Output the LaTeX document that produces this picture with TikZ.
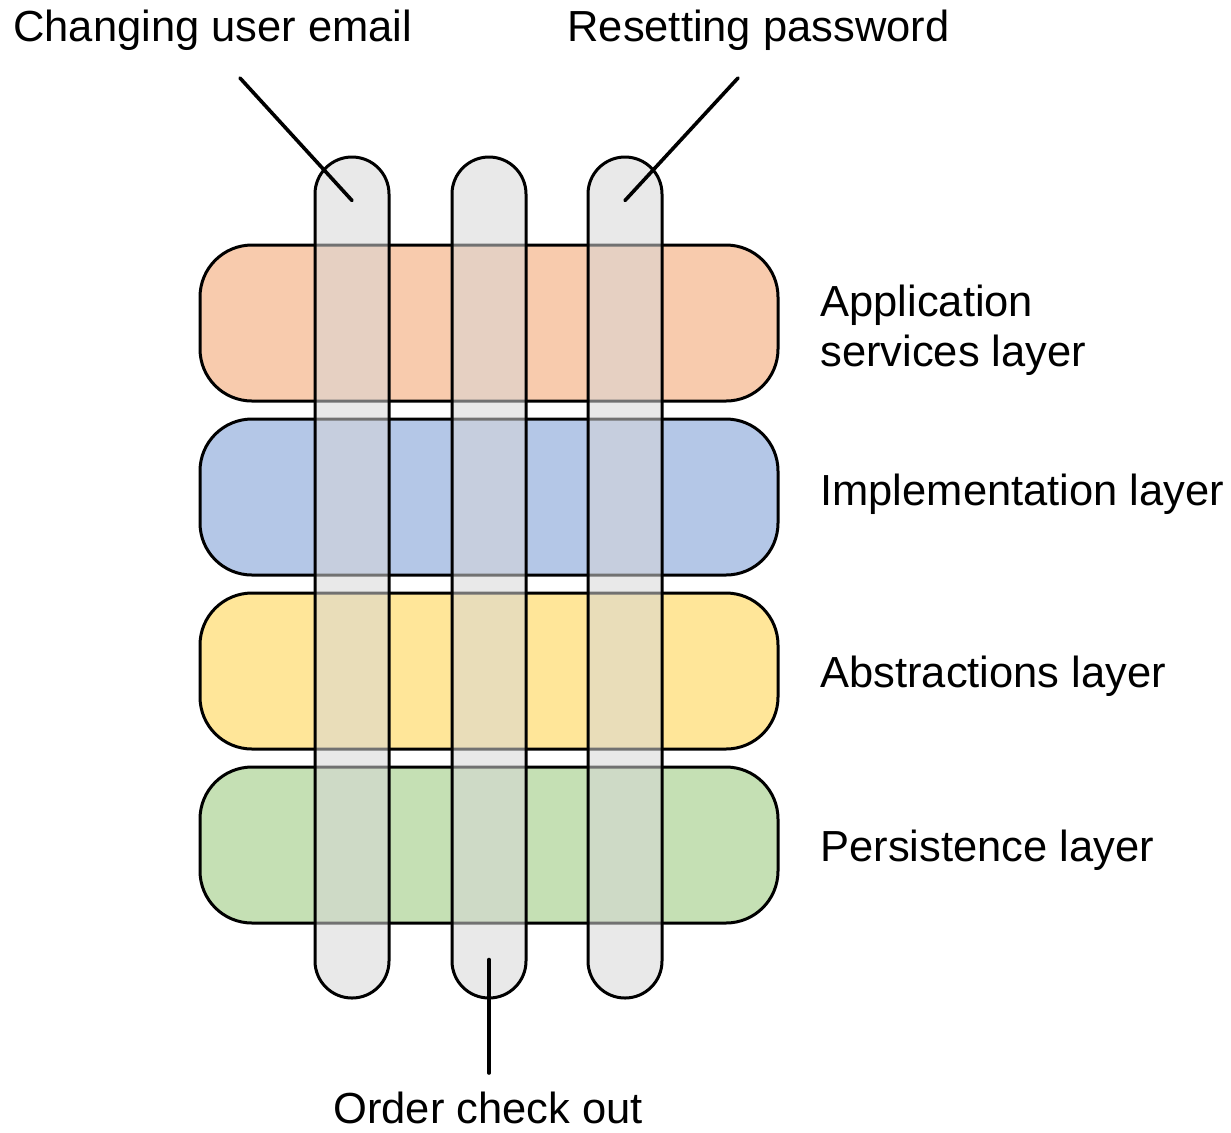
\documentclass[tikz,border=0pt]{standalone}
\usepackage{fontspec}
\setmainfont{Liberation Sans}
\begin{document}
\begin{tikzpicture}[x=0.5pt,y=-0.5pt,
  every node/.style={font=\fontsize{21.75pt}{25pt}\selectfont},
  layer/.style={draw=black,line width=1.5pt,rounded corners=26pt,
    minimum width=289pt,minimum height=78pt,inner sep=0pt},
  pill/.style={draw=black,line width=1.5pt,rounded corners=18.5pt,
    fill=pillgray,fill opacity=0.53,draw opacity=1,
    minimum width=37pt,minimum height=420.5pt,inner sep=0pt},
  label/.style={inner sep=0pt,align=left},
  connector/.style={line width=1.8pt,line cap=round}]
\definecolor{appfill}{HTML}{F8CBAD}
\definecolor{implfill}{HTML}{B4C7E7}
\definecolor{absfill}{HTML}{FFE699}
\definecolor{persfill}{HTML}{C5E0B4}
\definecolor{pillgray}{RGB}{214,214,214}
\useasboundingbox (0,0) rectangle (1231,1132);

% horizontal layers
\node[layer,fill=appfill]  (app)  at (489,323) {};
\node[layer,fill=implfill] (impl) at (489,497) {};
\node[layer,fill=absfill]  (abs)  at (489,671) {};
\node[layer,fill=persfill] (pers) at (489,845) {};

% vertical feature slices
\node[pill] (email)    at (352,577.5) {};
\node[pill] (checkout) at (489,577.5) {};
\node[pill] (reset)    at (625,577.5) {};

% layer names (base of a two-line node is its last line)
\node[label,anchor=base west] (lapp)  at (820,366) {Application\\services layer};
\node[label,anchor=base west] (limpl) at (820,505) {Implementation layer};
\node[label,anchor=base west] (labs)  at (820,687) {Abstractions layer};
\node[label,anchor=base west] (lpers) at (820,861) {Persistence layer};

% feature names
\node[label,anchor=base west] (lemail)    at (13,41)    {Changing user email};
\node[label,anchor=base west] (lreset)    at (567,41)   {Resetting password};
\node[label,anchor=base west] (lcheckout) at (333,1123) {Order check out};

% pointer lines
\coordinate (emailtip) at (240,78);
\coordinate (resettip) at (738,78);
\coordinate (checkouttip) at (489,1073);
\draw[connector] (emailtip) -- ([yshift=-22.5pt]email.north);
\draw[connector] (resettip) -- ([yshift=-22.5pt]reset.north);
\draw[connector] (checkouttip) -- ([yshift=20pt]checkout.south);
\end{tikzpicture}
\end{document}
